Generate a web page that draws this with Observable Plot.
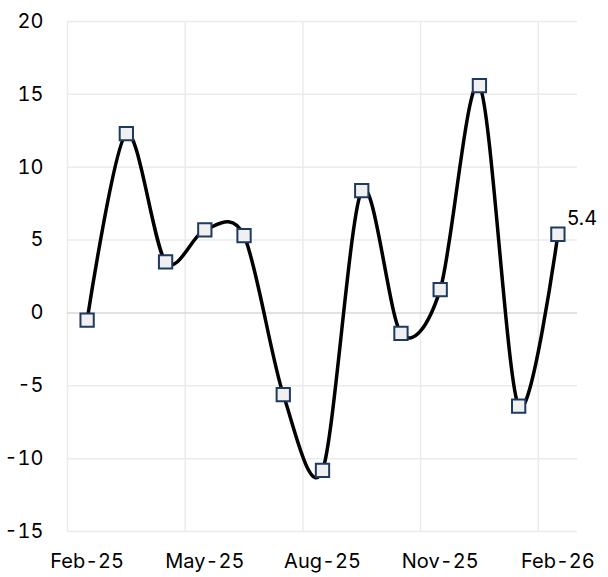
<!DOCTYPE html>
<html>
<head>
<meta charset="utf-8">
<script src="https://cdn.jsdelivr.net/npm/d3@7"></script>
<script src="https://cdn.jsdelivr.net/npm/@observablehq/plot@0.6"></script>
<style>
  html, body { margin: 0; padding: 0; background: #fff; }
  #chart svg { display: block; }
</style>
</head>
<body>
<div id="chart"></div>
<script>
const months = ["Feb-25","Mar-25","Apr-25","May-25","Jun-25","Jul-25","Aug-25","Sep-25","Oct-25","Nov-25","Dec-25","Jan-26","Feb-26"];
const values = [-0.5, 12.3, 3.5, 5.7, 5.3, -5.6, -10.8, 8.4, -1.4, 1.6, 15.6, -6.4, 5.4];
const yTicks = [-15, -10, -5, 0, 5, 10, 15, 20];
const xTickIdx = [0, 3, 6, 9, 12];
const xGridPos = [-0.5, 2.5, 5.5, 8.5, 11.5];

const data = months.map((m, i) => ({i, m, v: values[i]}));
const last = data[data.length - 1];

const chart = Plot.plot({
  width: 608,
  height: 577,
  marginLeft: 67,
  marginRight: 31,
  marginTop: 21,
  marginBottom: 46,
  style: {fontFamily: "Inter, sans-serif", fontSize: "20px", color: "#000", background: "#fff"},
  x: {type: "linear", domain: [-0.5, 12.5]},
  y: {domain: [-15, 20]},
  marks: [
    Plot.ruleY(yTicks.filter(d => d !== 0), {stroke: "#ebebeb", strokeWidth: 1.5}),
    Plot.ruleX(xGridPos, {stroke: "#ebebeb", strokeWidth: 1.5}),
    Plot.ruleY([0], {stroke: "#d9d9d9", strokeWidth: 1.5}),
    Plot.axisY({ticks: yTicks, tickSize: 0, tickPadding: 24, tickFormat: d => String(d), fontSize: 20, label: null}),
    Plot.axisX({ticks: xTickIdx, tickSize: 0, tickPadding: 22, tickFormat: d => months[d], fontSize: 20, label: null}),
    Plot.line(data, {x: "i", y: "v", curve: "cardinal", tension: 0.1, stroke: "#000", strokeWidth: 3.5}),
    Plot.dot(data, {x: "i", y: "v", symbol: "square", r: 7.5, fill: "#f0f0f0", stroke: "#1f3a60", strokeWidth: 2}),
    Plot.text([last], {x: "i", y: "v", text: d => d.v.toFixed(1), dx: 9, dy: -16, textAnchor: "start", fontSize: 20, fill: "#000"})
  ]
});
document.getElementById("chart").appendChild(chart);
</script>
</body>
</html>
